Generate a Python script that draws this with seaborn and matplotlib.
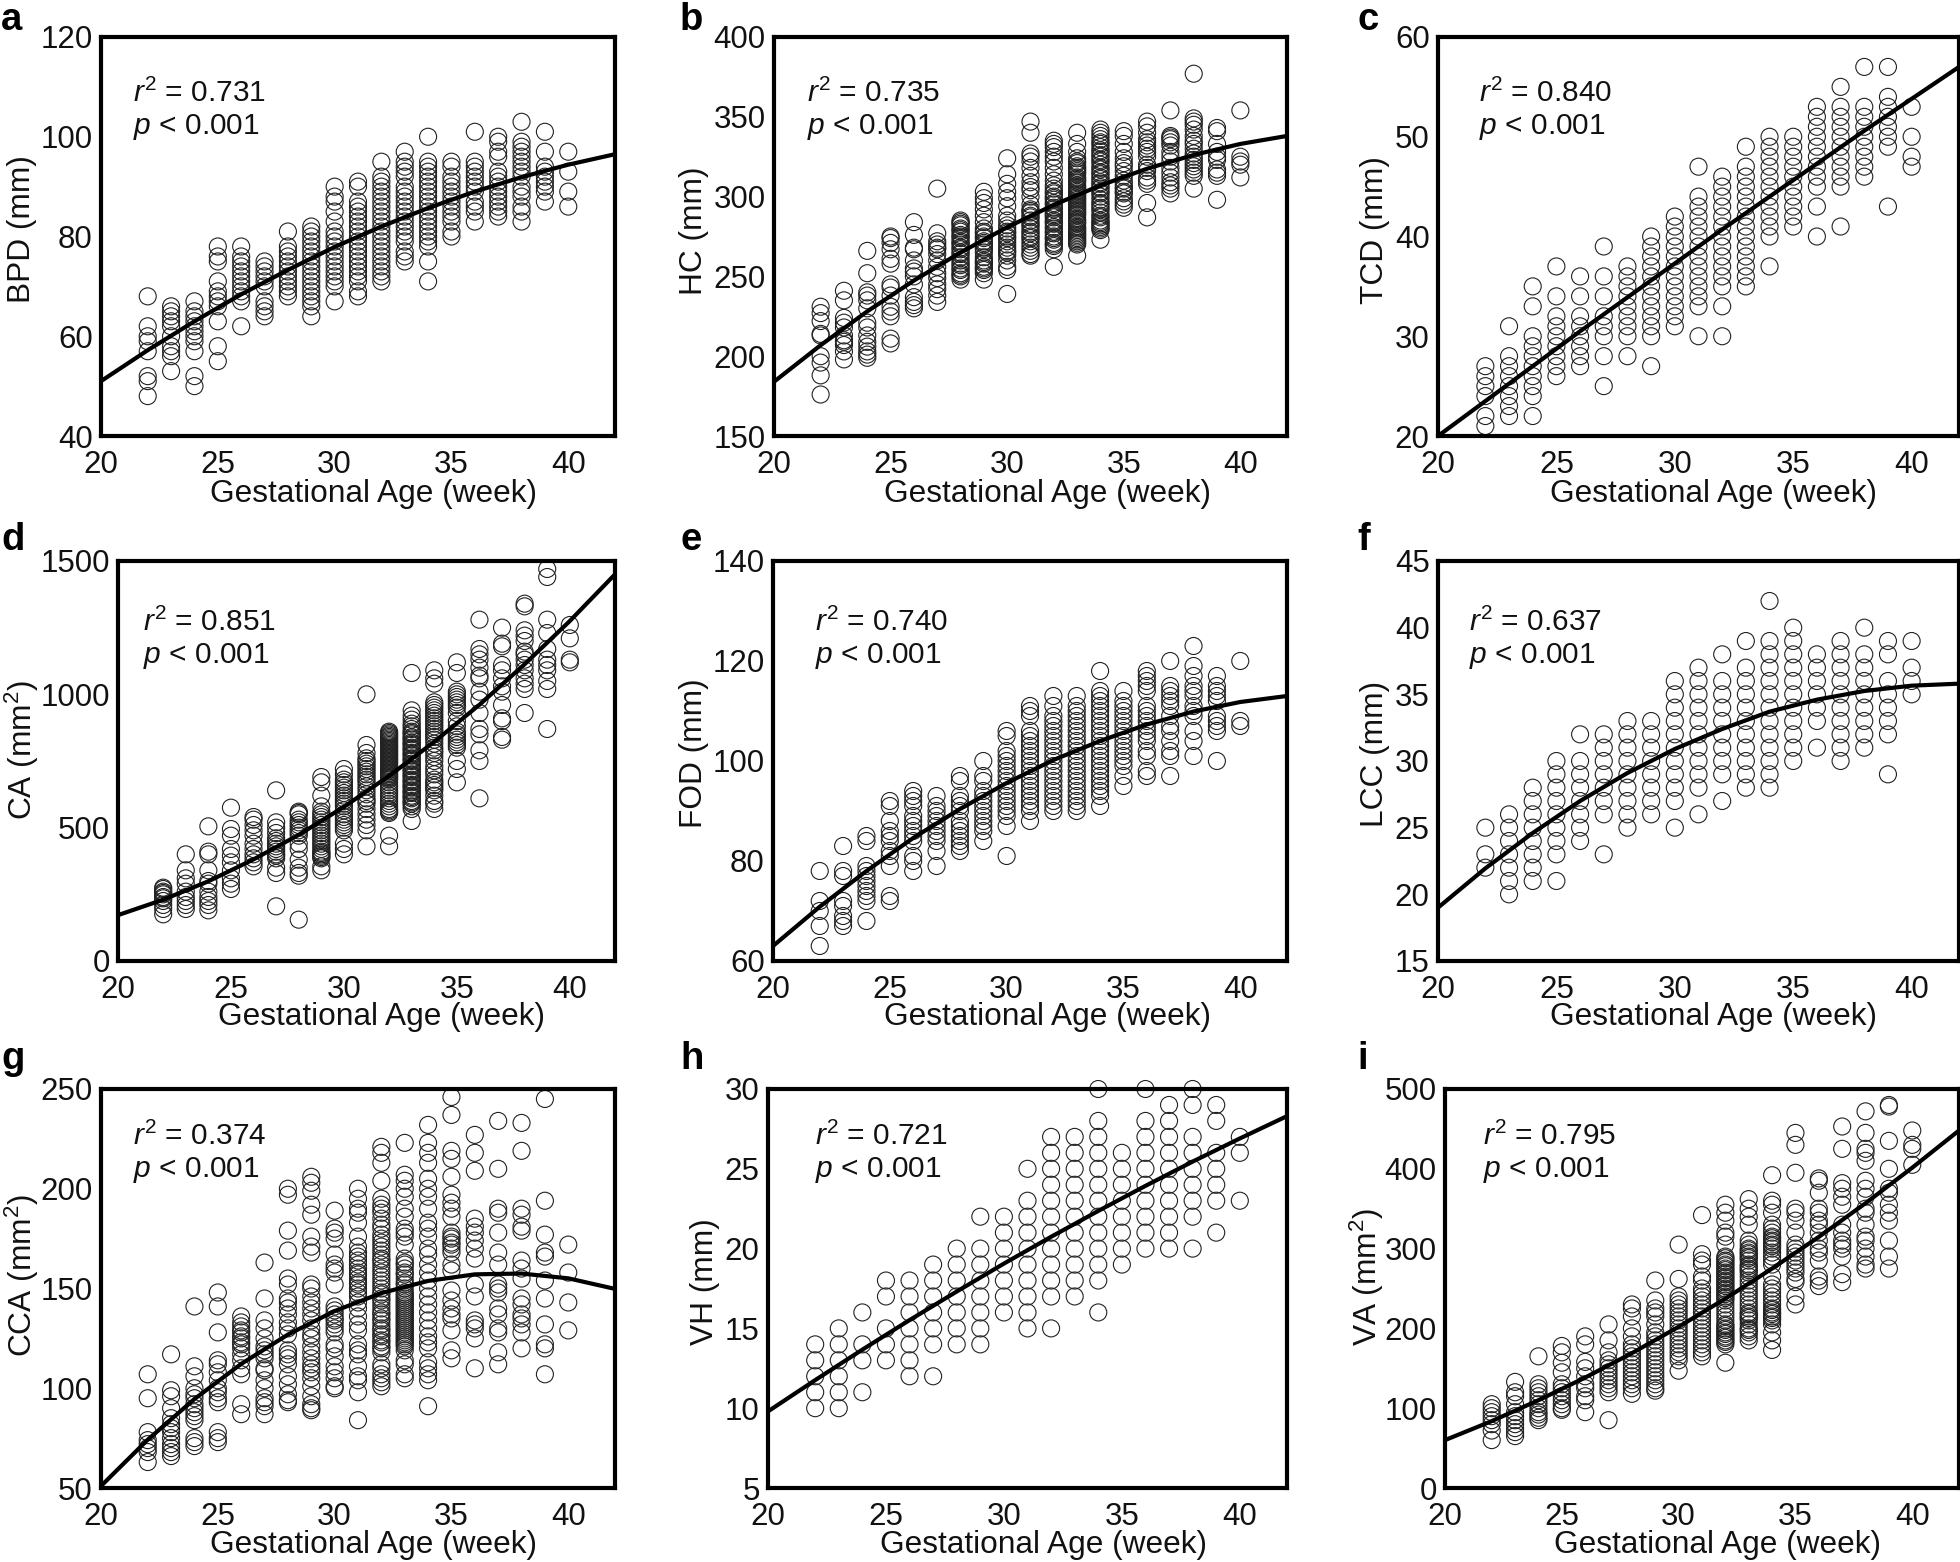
import matplotlib
matplotlib.use('Agg')
import matplotlib.pyplot as plt
import pandas as pd
import seaborn as sns

W, H = 1960, 1562

weeks = list(range(22, 41))
fit_weeks = [20, 22, 24, 26, 28, 30, 32, 34, 36, 38, 40, 42]

bpd_vals = [
    [48, 51, 52, 57, 59, 60, 62, 68],
    [53, 56, 57, 58, 60, 62, 63, 64, 65, 66],
    [50, 52, 57, 59, 60, 61, 62, 63, 64, 65, 67],
    [55, 58, 63, 66, 67, 68, 69, 71, 75, 76, 78],
    [62, 67, 68, 69, 70, 71, 72, 73, 74, 75, 76, 78],
    [64, 65, 66, 67, 70, 71, 72, 73, 74, 75],
    [68, 69, 70, 71, 72, 73, 74, 75, 76, 77, 78, 81],
    [64, 66, 67, 68, 69, 70, 71, 72, 73, 74, 75, 76, 77, 78, 79, 80, 81, 82],
    [67, 70, 71, 72, 73, 74, 75, 76, 77, 78, 79, 80, 81, 83, 85, 87, 88, 90],
    [68, 69, 71, 72, 73, 74, 75, 76, 77, 78, 79, 80, 81, 82, 83, 84, 85, 86, 87, 90, 91],
    [71, 72, 73, 74, 75, 76, 77, 78, 79, 80, 81, 82, 83, 84, 85, 86, 87, 88, 89, 90, 91, 92, 95],
    [75, 76, 77, 79, 80, 81, 82, 83, 84, 85, 86, 87, 88, 89, 90, 92, 93, 94, 95, 97],
    [71, 75, 78, 79, 80, 81, 82, 83, 84, 85, 86, 87, 88, 89, 90, 91, 92, 93, 94, 95, 100],
    [80, 81, 83, 84, 85, 86, 87, 88, 89, 90, 91, 92, 94, 95],
    [83, 85, 86, 87, 89, 90, 91, 92, 93, 94, 95, 101],
    [84, 85, 86, 87, 88, 89, 90, 91, 92, 93, 96, 97, 99, 100],
    [83, 85, 86, 88, 89, 90, 92, 93, 94, 95, 96, 97, 98, 99, 103],
    [87, 89, 90, 91, 92, 93, 94, 97, 101],
    [86, 89, 93, 97],
]
hc_vals = [
    [176, 188, 196, 200, 213, 214, 222, 227, 231],
    [198, 203, 207, 209, 210, 213, 218, 221, 224, 235, 241],
    [199, 201, 203, 206, 209, 213, 218, 221, 230, 235, 238, 240, 252, 266],
    [208, 211, 225, 228, 231, 238, 243, 245, 258, 261, 267, 271, 274, 275],
    [230, 232, 234, 237, 245, 250, 253, 255, 260, 267, 268, 276, 284],
    [234, 238, 242, 245, 249, 252, 256, 260, 264, 267, 268, 270, 272, 277, 305],
    [248, 250, 251, 252, 254, 255, 257, 258, 260, 262, 264, 265, 267, 268, 270, 271, 272, 274, 275, 276, 278, 279, 280, 282, 283, 284, 285],
    [248, 252, 254, 255, 256, 258, 259, 260, 262, 265, 267, 268, 270, 271, 272, 274, 275, 277, 278, 280, 284, 288, 292, 296, 299, 303],
    [239, 254, 256, 260, 263, 265, 266, 268, 270, 272, 274, 275, 277, 278, 280, 282, 285, 288, 294, 299, 303, 308, 314, 324],
    [263, 264, 266, 268, 270, 272, 274, 275, 277, 278, 280, 282, 283, 285, 287, 288, 290, 291, 292, 295, 300, 304, 306, 309, 313, 318, 322, 325, 327, 340, 347],
    [256, 267, 269, 270, 271, 273, 274, 275, 277, 278, 280, 281, 283, 284, 285, 287, 288, 289, 290, 292, 293, 295, 296, 298, 299, 300, 302, 303, 305, 307, 310, 314, 318, 322, 325, 328, 331, 333, 335],
    [263, 270, 271, 272, 273, 274, 275, 276, 277, 278, 279, 280, 281, 283, 284, 285, 286, 288, 289, 290, 291, 292, 293, 294, 295, 296, 297, 298, 299, 300, 301, 302, 303, 304, 305, 306, 307, 309, 310, 311, 312, 314, 315, 316, 317, 318, 319, 321, 322, 324, 328, 333, 340],
    [273, 279, 280, 281, 282, 283, 284, 285, 287, 288, 290, 292, 293, 295, 296, 298, 300, 302, 303, 305, 306, 308, 309, 311, 312, 314, 315, 317, 318, 320, 322, 323, 325, 326, 328, 329, 331, 333, 334, 336, 338, 340, 342],
    [293, 295, 297, 299, 302, 303, 305, 306, 308, 310, 313, 316, 319, 321, 324, 328, 333, 338, 341],
    [287, 296, 308, 310, 312, 316, 318, 320, 325, 328, 330, 332, 334, 336, 340, 344, 347],
    [302, 305, 307, 309, 312, 315, 318, 322, 325, 328, 332, 334, 336, 337, 338, 354],
    [305, 313, 315, 317, 319, 321, 323, 325, 327, 330, 333, 335, 338, 342, 345, 347, 349, 377],
    [298, 313, 315, 317, 323, 325, 328, 333, 341, 343],
    [312, 320, 322, 325, 354],
]
tcd_vals = [
    [21, 22, 24, 25, 26, 27],
    [22, 23, 24, 25, 26, 27, 28, 31],
    [22, 24, 25, 26, 27, 28, 29, 30, 33, 35],
    [26, 27, 28, 29, 30, 31, 32, 34, 37],
    [27, 28, 29, 30, 31, 32, 34, 36],
    [25, 28, 30, 31, 32, 34, 36, 39],
    [28, 30, 31, 32, 33, 34, 35, 36, 37],
    [27, 30, 31, 32, 33, 34, 35, 36, 37, 38, 39, 40],
    [31, 32, 33, 34, 35, 36, 37, 38, 39, 40, 41, 42],
    [30, 33, 34, 35, 36, 37, 38, 39, 40, 41, 42, 43, 44, 47],
    [30, 33, 35, 36, 37, 38, 39, 40, 41, 42, 43, 44, 45, 46],
    [35, 36, 37, 38, 39, 40, 41, 42, 43, 44, 45, 46, 47, 49],
    [37, 40, 41, 42, 43, 44, 45, 46, 47, 48, 49, 50],
    [41, 42, 43, 44, 45, 46, 47, 48, 49, 50],
    [40, 43, 45, 46, 47, 48, 49, 50, 51, 52, 53],
    [41, 45, 46, 47, 48, 49, 50, 51, 52, 53, 55],
    [46, 47, 48, 49, 50, 51, 52, 53, 57],
    [43, 49, 50, 51, 52, 53, 54, 57],
    [47, 48, 50, 53],
]
ca_vals = [
    [175, 195, 210, 225, 235, 240, 250, 255, 260, 270, 275],
    [195, 210, 225, 240, 260, 290, 310, 340, 400],
    [190, 210, 225, 240, 260, 290, 300, 340, 400, 410, 505],
    [270, 290, 310, 340, 370, 395, 420, 470, 495, 575],
    [355, 370, 385, 400, 420, 440, 470, 490, 510, 530, 540],
    [205, 330, 350, 385, 395, 400, 410, 420, 430, 440, 450, 460, 480, 500, 520, 640],
    [155, 320, 330, 350, 380, 420, 440, 470, 480, 490, 500, 510, 520, 530, 550, 555, 560],
    [340, 355, 385, 390, 395, 400, 405, 410, 420, 430, 440, 450, 460, 470, 480, 490, 500, 510, 520, 530, 540, 550, 560, 580, 620, 670, 690],
    [400, 420, 440, 490, 500, 510, 520, 530, 540, 550, 565, 580, 590, 600, 610, 620, 630, 640, 650, 660, 670, 680, 700, 720],
    [430, 490, 510, 530, 550, 570, 590, 600, 610, 625, 640, 655, 670, 680, 690, 700, 710, 720, 730, 740, 750, 760, 780, 810, 1000],
    [430, 470, 555, 560, 565, 570, 580, 590, 600, 610, 620, 630, 640, 650, 660, 670, 680, 685, 690, 695, 700, 705, 710, 715, 720, 725, 730, 735, 740, 745, 750, 755, 760, 765, 770, 775, 780, 785, 790, 795, 800, 805, 810, 815, 820, 825, 830, 835, 840, 845, 850, 855, 860],
    [525, 570, 580, 590, 595, 600, 610, 615, 620, 630, 635, 640, 650, 655, 660, 670, 675, 680, 690, 695, 700, 710, 715, 720, 730, 735, 740, 750, 755, 760, 770, 775, 780, 790, 795, 800, 810, 815, 820, 830, 835, 840, 850, 855, 860, 870, 880, 890, 905, 920, 940, 1080],
    [570, 590, 600, 620, 640, 650, 660, 670, 680, 700, 715, 730, 750, 765, 780, 790, 800, 815, 830, 840, 850, 860, 870, 880, 890, 900, 910, 920, 930, 940, 950, 960, 970, 1040, 1060, 1090],
    [670, 720, 750, 800, 810, 820, 830, 840, 850, 860, 880, 900, 930, 950, 960, 970, 980, 990, 1000, 1010, 1080, 1120],
    [610, 750, 790, 850, 870, 930, 980, 1010, 1060, 1070, 1100, 1130, 1150, 1170, 1280],
    [830, 840, 900, 910, 960, 1010, 1030, 1060, 1090, 1110, 1180, 1190, 1250],
    [930, 1020, 1040, 1060, 1090, 1110, 1130, 1150, 1160, 1200, 1220, 1240, 1330, 1340],
    [870, 1020, 1050, 1090, 1110, 1130, 1170, 1230, 1280, 1440, 1470],
    [1120, 1130, 1210, 1260],
]
fod_vals = [
    [63, 67, 70, 72, 78],
    [67, 68, 69, 71, 72, 77, 78, 83],
    [68, 72, 73, 74, 75, 76, 77, 78, 79, 84, 85],
    [72, 73, 79, 81, 82, 84, 85, 86, 88, 91, 92],
    [78, 80, 81, 84, 85, 86, 87, 88, 89, 91, 92, 93, 94],
    [79, 82, 84, 85, 86, 87, 88, 89, 90, 91, 93],
    [82, 83, 84, 85, 86, 87, 88, 90, 91, 92, 93, 96, 97],
    [84, 86, 87, 88, 89, 90, 91, 92, 93, 94, 96, 97, 100],
    [81, 87, 89, 90, 91, 92, 93, 94, 95, 96, 97, 98, 99, 100, 101, 102, 105, 106],
    [88, 90, 91, 92, 93, 94, 95, 96, 97, 98, 99, 100, 101, 102, 103, 104, 105, 106, 109, 110, 111],
    [90, 91, 92, 93, 94, 95, 96, 97, 98, 99, 100, 101, 102, 103, 104, 105, 106, 107, 108, 109, 111, 113],
    [90, 91, 92, 93, 94, 95, 96, 97, 98, 99, 100, 101, 102, 103, 104, 105, 106, 107, 108, 109, 110, 111, 113],
    [91, 93, 94, 95, 96, 97, 98, 99, 100, 101, 102, 103, 104, 105, 106, 107, 108, 109, 110, 111, 112, 113, 114, 118],
    [95, 97, 99, 100, 101, 102, 103, 104, 105, 106, 107, 108, 109, 110, 111, 112, 114],
    [97, 98, 101, 102, 104, 105, 106, 107, 108, 109, 110, 111, 114, 115, 116, 117, 118],
    [97, 101, 102, 104, 106, 107, 109, 111, 112, 113, 114, 115, 120],
    [101, 104, 106, 109, 110, 111, 113, 114, 115, 117, 119, 123],
    [100, 106, 107, 108, 109, 112, 113, 114, 115, 117],
    [107, 108, 120],
]
lcc_vals = [
    [22, 23, 25],
    [20, 21, 22, 23, 24, 25, 26],
    [21, 22, 23, 24, 25, 26, 27, 28],
    [21, 23, 24, 25, 26, 27, 28, 29, 30],
    [24, 25, 26, 27, 28, 29, 30, 32],
    [23, 26, 27, 28, 29, 30, 31, 32],
    [25, 26, 27, 28, 29, 30, 31, 32, 33],
    [26, 27, 28, 29, 30, 31, 32, 33],
    [25, 27, 28, 29, 30, 31, 32, 33, 34, 35, 36],
    [26, 28, 29, 30, 31, 32, 33, 34, 35, 36, 37],
    [27, 29, 30, 31, 32, 33, 34, 35, 36, 38],
    [28, 29, 30, 31, 32, 33, 34, 35, 36, 37, 39],
    [28, 29, 30, 31, 32, 33, 34, 35, 36, 37, 38, 39, 42],
    [30, 31, 32, 33, 34, 35, 36, 37, 38, 39, 40],
    [31, 33, 34, 35, 36, 37, 38],
    [30, 31, 32, 33, 34, 35, 36, 37, 38, 39],
    [31, 32, 33, 34, 35, 36, 37, 38, 40],
    [29, 32, 33, 34, 35, 36, 38, 39],
    [35, 36, 37, 39],
]
cca_vals = [
    [63, 68, 70, 72, 74, 78, 95, 107],
    [66, 68, 70, 72, 75, 78, 80, 82, 85, 90, 96, 99, 117],
    [71, 73, 75, 84, 86, 88, 90, 92, 95, 97, 100, 106, 111, 141],
    [73, 75, 78, 93, 95, 98, 100, 104, 108, 112, 114, 128, 141, 148],
    [87, 92, 107, 110, 114, 117, 120, 122, 123, 125, 126, 128, 129, 131, 133, 136],
    [87, 91, 93, 95, 100, 104, 109, 110, 115, 117, 119, 121, 125, 130, 134, 145, 163],
    [93, 94, 97, 102, 106, 112, 115, 117, 119, 127, 130, 133, 137, 140, 143, 145, 152, 155, 169, 179, 197, 200],
    [89, 90, 92, 96, 101, 105, 108, 110, 112, 115, 118, 121, 125, 127, 130, 134, 137, 140, 143, 146, 150, 152, 168, 171, 176, 187, 192, 199, 203, 206],
    [100, 101, 105, 108, 111, 116, 120, 122, 128, 130, 132, 134, 135, 137, 139, 141, 152, 158, 160, 162, 167, 175, 178, 180, 189],
    [84, 98, 104, 106, 111, 117, 119, 122, 129, 132, 136, 140, 143, 146, 148, 150, 152, 153, 155, 157, 158, 160, 162, 164, 166, 168, 171, 176, 183, 188, 190, 195, 200],
    [101, 103, 105, 107, 110, 112, 118, 120, 121, 123, 124, 126, 127, 129, 130, 132, 134, 135, 137, 138, 140, 142, 144, 145, 147, 148, 150, 152, 154, 156, 158, 160, 162, 164, 165, 167, 169, 171, 173, 175, 177, 180, 182, 185, 188, 190, 192, 195, 204, 213, 218, 221],
    [105, 107, 112, 114, 119, 121, 122, 123, 124, 125, 126, 127, 128, 129, 130, 131, 132, 133, 134, 135, 136, 137, 138, 139, 140, 141, 142, 143, 144, 145, 146, 147, 148, 150, 152, 153, 155, 157, 158, 160, 162, 163, 165, 172, 176, 178, 180, 186, 190, 196, 200, 204, 207, 223],
    [91, 104, 107, 110, 113, 120, 123, 126, 130, 134, 138, 142, 146, 150, 154, 158, 162, 167, 170, 176, 180, 183, 190, 196, 200, 205, 213, 218, 223, 232],
    [115, 119, 129, 135, 137, 140, 144, 149, 159, 162, 168, 170, 172, 173, 175, 176, 178, 186, 190, 193, 197, 206, 215, 219, 237, 246],
    [110, 125, 130, 132, 134, 146, 152, 165, 170, 174, 178, 181, 185, 209, 218, 227],
    [112, 118, 128, 130, 137, 140, 148, 150, 152, 162, 168, 178, 188, 190, 210, 234],
    [120, 128, 132, 135, 137, 142, 145, 155, 160, 164, 179, 181, 187, 190, 219, 233],
    [107, 120, 122, 132, 145, 154, 166, 168, 177, 194, 245],
    [129, 143, 158, 172],
]
vh_vals = [
    [10, 11, 12, 13, 14],
    [10, 11, 12, 13, 14, 15],
    [11, 13, 14, 16],
    [13, 14, 15, 17, 18],
    [12, 13, 14, 15, 16, 17, 18],
    [12, 14, 15, 16, 17, 18, 19],
    [14, 15, 16, 17, 18, 19, 20],
    [14, 15, 16, 17, 18, 19, 20, 22],
    [16, 17, 18, 19, 20, 21, 22],
    [15, 16, 17, 18, 19, 20, 21, 22, 23, 25],
    [15, 17, 18, 19, 20, 21, 22, 23, 24, 25, 26, 27],
    [17, 18, 19, 20, 21, 22, 23, 24, 25, 26, 27],
    [16, 18, 19, 20, 21, 22, 23, 24, 25, 26, 27, 28, 30],
    [19, 20, 21, 22, 23, 24, 25, 26],
    [20, 21, 22, 23, 24, 25, 26, 27, 28, 30],
    [20, 21, 22, 23, 24, 25, 26, 27, 28, 29],
    [20, 22, 23, 24, 25, 26, 27, 29, 30],
    [21, 23, 24, 25, 26, 28, 29],
    [23, 26, 27],
]
va_vals = [
    [60, 72, 80, 85, 90, 95, 100, 105],
    [65, 70, 75, 80, 85, 90, 95, 105, 115, 120, 133],
    [85, 88, 92, 95, 100, 105, 110, 115, 120, 125, 130, 165],
    [98, 100, 105, 110, 115, 120, 125, 130, 145, 157, 170, 178],
    [95, 110, 115, 125, 130, 140, 150, 158, 180, 190],
    [85, 120, 125, 130, 135, 140, 145, 150, 155, 160, 170, 185, 205],
    [118, 125, 130, 135, 140, 145, 150, 155, 160, 165, 170, 175, 180, 190, 200, 215, 225, 230],
    [122, 125, 130, 135, 140, 145, 150, 155, 160, 165, 170, 175, 180, 185, 190, 195, 205, 215, 220, 225, 235, 260],
    [147, 160, 165, 170, 175, 180, 185, 190, 195, 200, 205, 210, 215, 220, 225, 230, 235, 240, 262, 305],
    [165, 170, 175, 180, 185, 190, 195, 200, 205, 210, 215, 220, 225, 230, 235, 240, 245, 250, 260, 265, 280, 285, 293, 342],
    [157, 180, 183, 185, 188, 190, 193, 195, 198, 200, 203, 205, 210, 215, 220, 225, 230, 235, 238, 240, 243, 245, 248, 250, 253, 255, 258, 260, 263, 265, 268, 270, 273, 275, 278, 280, 283, 285, 288, 290, 305, 315, 320, 335, 345, 355],
    [185, 190, 195, 198, 200, 205, 210, 213, 215, 218, 220, 225, 230, 235, 240, 245, 250, 255, 260, 265, 270, 273, 275, 278, 280, 285, 288, 290, 293, 295, 298, 300, 305, 310, 330, 340, 350, 362],
    [173, 185, 195, 205, 210, 213, 215, 218, 220, 223, 225, 230, 235, 240, 245, 250, 255, 265, 280, 285, 290, 295, 300, 303, 305, 308, 310, 313, 315, 320, 325, 330, 345, 355, 360, 392],
    [230, 240, 258, 262, 270, 275, 280, 285, 290, 295, 300, 305, 320, 335, 345, 350, 395, 430, 445],
    [253, 260, 265, 285, 295, 300, 310, 320, 330, 335, 345, 350, 370, 385, 388],
    [258, 268, 290, 300, 305, 310, 320, 330, 355, 365, 375, 382, 425, 453],
    [275, 280, 290, 300, 310, 315, 330, 345, 350, 365, 375, 385, 410, 420, 425, 445, 472],
    [275, 290, 310, 335, 345, 355, 370, 375, 400, 435, 478, 480],
    [405, 425, 430, 448],
]

bpd_fit = [51, 57.2, 63, 68.4, 73.3, 77.9, 82, 85.7, 89, 91.9, 94.4, 96.5]
hc_fit = [184, 206.9, 228.1, 247.4, 265, 280.8, 294.8, 307, 317.5, 326.1, 333, 338]
tcd_fit = [20, 23.5, 27, 30.5, 33.9, 37.3, 40.7, 44, 47.3, 50.6, 53.8, 57]
ca_fit = [172, 230, 299, 381, 473, 578, 694, 822, 961, 1113, 1275, 1450]
fod_fit = [63, 70.85, 78, 84.6, 90.4, 95.6, 100.2, 104, 107.3, 109.9, 111.8, 113]
lcc_fit = [19, 21.95, 24.6, 27, 29.1, 30.9, 32.4, 33.7, 34.6, 35.25, 35.65, 35.8]
cca_fit = [51, 74.2, 94.6, 112.2, 126.9, 138.7, 147.7, 153.8, 157.1, 157.5, 155.1, 149.8]
vh_fit = [9.8, 11.76, 13.67, 15.52, 17.31, 19.06, 20.74, 22.36, 23.93, 25.45, 26.9, 28.3]
va_fit = [60, 83.8, 110, 138.4, 169, 202, 237.3, 275, 314.7, 356.9, 401.4, 448]

letters = ['a', 'b', 'c', 'd', 'e', 'f', 'g', 'h', 'i']
ylabels = ['BPD (mm)', 'HC (mm)', 'TCD (mm)', 'CA (mm$^{2}$)', 'FOD (mm)', 'LCC (mm)',
           'CCA (mm$^{2}$)', 'VH (mm)', 'VA (mm$^{2}$)']
r2_labels = ['0.731', '0.735', '0.840', '0.851', '0.740', '0.637', '0.374', '0.721', '0.795']
series = [bpd_vals, hc_vals, tcd_vals, ca_vals, fod_vals, lcc_vals, cca_vals, vh_vals, va_vals]
fits = [bpd_fit, hc_fit, tcd_fit, ca_fit, fod_fit, lcc_fit, cca_fit, vh_fit, va_fit]
yticks = [
    [40, 60, 80, 100, 120],
    [150, 200, 250, 300, 350, 400],
    [20, 30, 40, 50, 60],
    [0, 500, 1000, 1500],
    [60, 80, 100, 120, 140],
    [15, 20, 25, 30, 35, 40, 45],
    [50, 100, 150, 200, 250],
    [5, 10, 15, 20, 25, 30],
    [0, 100, 200, 300, 400, 500],
]
xticks = [20, 25, 30, 35, 40]

# layout in reference pixels
boxes = [(101, 615, 37, 436), (774, 1287, 37, 436), (1438, 1959, 37, 436),
         (118, 615, 561, 961), (773, 1287, 561, 961), (1438, 1959, 561, 961),
         (101, 615, 1089, 1488), (768, 1287, 1089, 1488), (1445, 1959, 1089, 1488)]
letter_xy = [(1, 30), (680, 30), (1357, 30), (1, 550), (680, 550), (1357, 550),
             (1, 1069), (680, 1069), (1357, 1069)]
note_xy = [(133, 102), (807, 102), (1479, 102), (143, 631), (815, 631), (1469, 631),
           (133, 1145), (815, 1145), (1483, 1145)]
xlabel_xy = [(374, 502), (1047, 502), (1713, 502), (382, 1025), (1047, 1025), (1713, 1025),
             (374, 1553), (1043, 1553), (1718, 1553)]
ylabel_xy = [(22, 229), (694, 231), (1375, 230), (22, 750), (694, 753), (1375, 754),
             (22, 1276), (705, 1282), (1367, 1277)]

sns.set_style('white')
plt.rcParams['font.family'] = ['Liberation Sans', 'DejaVu Sans']
plt.rcParams['mathtext.fontset'] = 'custom'
plt.rcParams['mathtext.rm'] = 'Liberation Sans'
plt.rcParams['mathtext.it'] = 'Liberation Sans:italic'
plt.rcParams['mathtext.default'] = 'rm'

fig = plt.figure(figsize=(W / 100, H / 100), dpi=100, facecolor='white')

for i in range(9):
    l, r, t, b = boxes[i]
    ax = fig.add_axes([l / W, 1 - b / H, (r - l) / W, (b - t) / H])
    df = pd.DataFrame({
        'week': [w for w, vals in zip(weeks, series[i]) for _ in vals],
        'value': [v for vals in series[i] for v in vals],
    })
    sns.scatterplot(data=df, x='week', y='value', ax=ax, s=150, marker='o', clip_on=False, zorder=2)
    pts = ax.collections[-1]
    pts.set_facecolor('none')
    pts.set_edgecolor('#222222')
    pts.set_linewidth(0.8)
    sns.lineplot(x=fit_weeks, y=fits[i], ax=ax, color='black', linewidth=3, errorbar=None, zorder=3)

    ax.set_xlim(20, 42)
    ax.set_ylim(yticks[i][0], yticks[i][-1])
    ax.set_xticks(xticks)
    ax.set_yticks(yticks[i])
    ax.tick_params(axis='both', direction='in', length=5, width=2, labelsize=22.5, color='black', labelcolor='#111111')
    ax.tick_params(axis='x', pad=10)
    ax.tick_params(axis='y', pad=6)
    for s in ax.spines.values():
        s.set_visible(True)
        s.set_linewidth(3)
        s.set_color('black')
        s.set_zorder(4)

    ax.set_xlabel('Gestational Age (week)', fontsize=22.8, color='#111111', va='baseline')
    ax.set_ylabel(ylabels[i], fontsize=22.8, color='#111111', va='center')
    ax.xaxis.set_label_coords((xlabel_xy[i][0] - l) / (r - l), (b - xlabel_xy[i][1]) / (b - t))
    ax.yaxis.set_label_coords((ylabel_xy[i][0] - l) / (r - l), (b - ylabel_xy[i][1]) / (b - t))

    nx, ny = note_xy[i]
    fig.text(nx / W, 1 - ny / H, r'$\mathit{r}^{2}$ = ' + r2_labels[i], fontsize=21.5, color='#111111', va='baseline')
    fig.text(nx / W, 1 - (ny + 32) / H, r'$\mathit{p}$ < 0.001', fontsize=21.5, color='#111111', va='baseline')
    fig.text(letter_xy[i][0] / W, 1 - letter_xy[i][1] / H, letters[i], fontsize=27.5, fontweight='bold',
             color='black', va='baseline')

fig.savefig('out.png', dpi=100)
